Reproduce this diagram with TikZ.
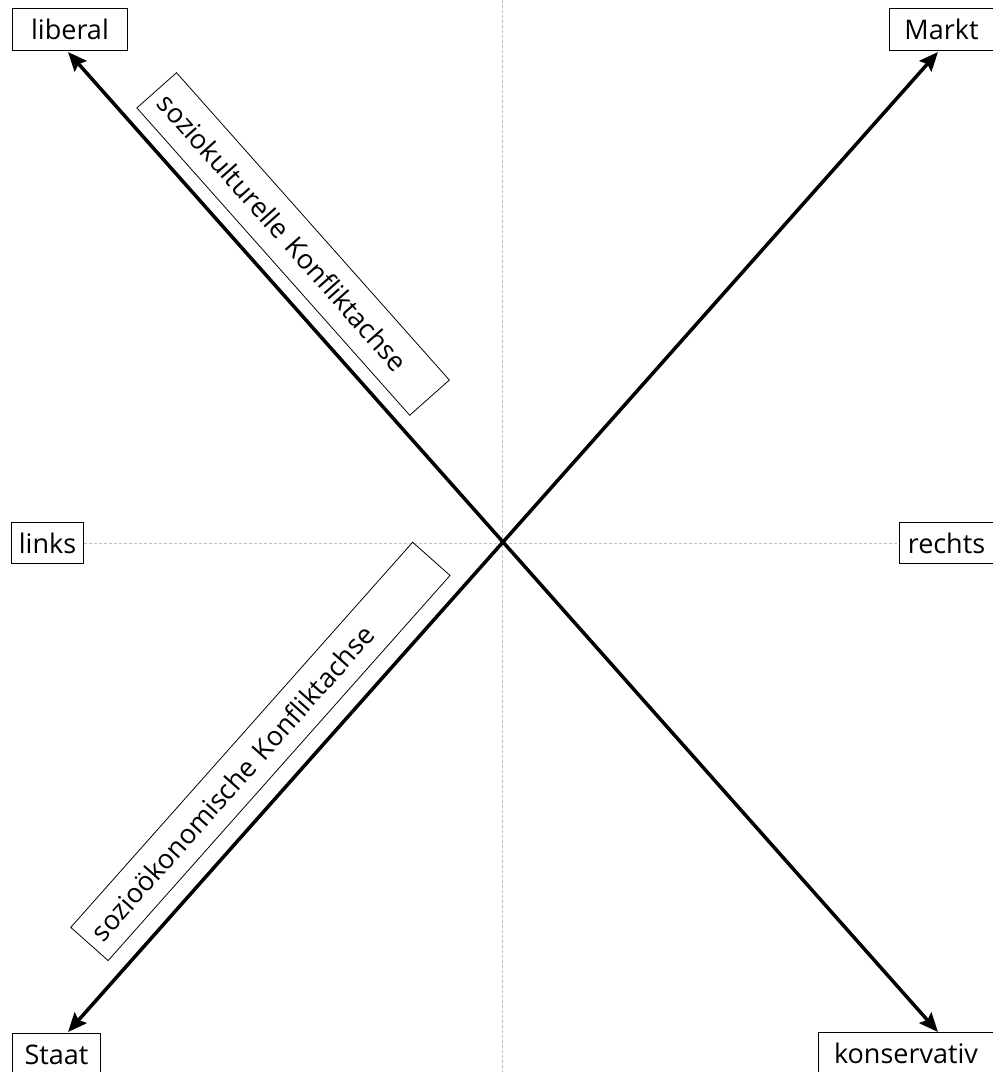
\documentclass[tikz,border=0pt]{standalone}
\usepackage{fontspec}
\setmainfont{Open Sans}
\usetikzlibrary{positioning,arrows.meta}
\definecolor{guidegray}{RGB}{190,190,190}

\begin{document}
\begin{tikzpicture}[x=1pt, y=1pt,
  every node/.style={font=\fontsize{27}{32}\selectfont, text height=21pt, text depth=1pt},
  pole/.style={draw, line width=1pt, fill=white, inner xsep=6pt, inner ysep=2pt, minimum height=42pt, anchor=north west},
  axislabel/.style={draw, line width=0.8pt, fill=white, sloped, inner xsep=10pt, inner ysep=2pt, align=left},
  axis/.style={line width=3.5pt, {Stealth[length=19pt,width=16pt,inset=3pt]}-{Stealth[length=19pt,width=16pt,inset=3pt]}},
  guide/.style={guidegray, line width=0.8pt, dash pattern=on 3pt off 2pt}
]
  \useasboundingbox (0,0) rectangle (993,-1072);

  \node[pole, minimum width=115pt] (liberal) at (12,-8) {liberal};
  \node[pole, minimum width=104pt] (markt) at (889,-8) {Markt};
  \node[pole, minimum width=72pt, minimum height=41pt] (links) at (11,-522) {links};
  \node[pole, minimum width=94pt, minimum height=41pt] (rechts) at (899,-522) {rechts};
  \node[pole, minimum width=88pt] (staat) at (12,-1033) {Staat};
  \node[pole, minimum width=175pt] (konservativ) at (818,-1032) {konservativ};

  % dotted cross
  \coordinate (top) at (502,0);
  \coordinate (bottom) at (502,-1072);
  \draw[guide] (top) -- (bottom);
  \draw[guide] (links) -- (rechts);

  % axes
  \coordinate (kultA) at (68,-52);
  \coordinate (kultB) at (938,-1032);
  \coordinate (oekA) at (68,-1032);
  \coordinate (oekB) at (938,-52);

  \draw[axis] (kultA) -- node[axislabel, pos=0.2236, above=14pt, minimum height=53pt, text width=391pt]
    {soziokulturelle Konfliktachse} (kultB);
  \draw[axis] (oekA) -- node[axislabel, pos=0.2576, above=17pt, minimum height=50pt, text width=495pt]
    {sozioökonomische Konfliktachse} (oekB);
\end{tikzpicture}
\end{document}
